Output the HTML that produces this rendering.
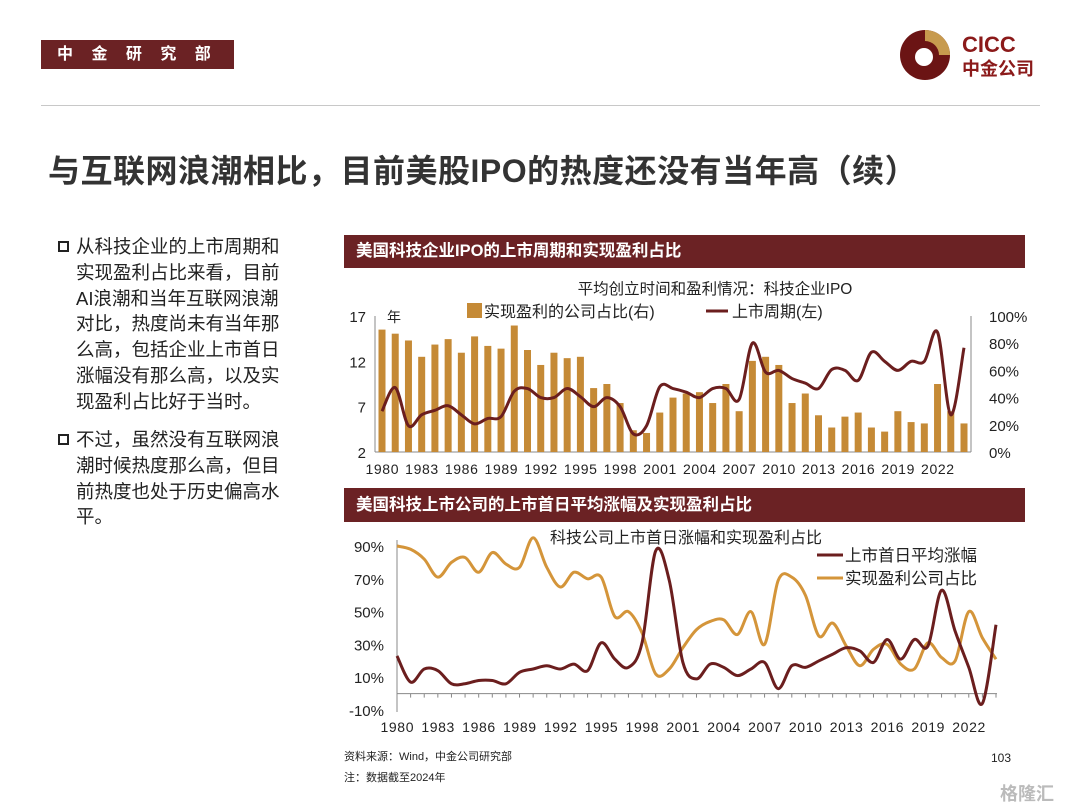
<!DOCTYPE html>
<html><head><meta charset="utf-8"><style>
body{margin:0;width:1080px;height:810px;background:#fff;position:relative;overflow:hidden;font-family:"Liberation Sans","Noto Sans CJK SC",sans-serif;color:#222}
.abs{position:absolute}
.bar{background:#6b2224;color:#fff;font-weight:bold}
.lt{font-size:18.5px;line-height:25.8px;color:#222}
.sq{display:inline-block;width:7px;height:7px;border:2px solid #222;margin-right:7px;vertical-align:1px}
</style></head><body>
<div class="abs bar" style="left:41px;top:40px;width:193px;height:29px;font-size:16px;line-height:29px;letter-spacing:7px;padding-left:16px;box-sizing:border-box">中 金 研 究 部</div>
<svg class="abs" style="left:898px;top:28px" width="145" height="54" viewBox="0 0 145 54">
<circle cx="27" cy="27" r="25" fill="#6b1414"/>
<path d="M27 2 A25 25 0 0 1 52 27 L41 27 A14 14 0 0 0 27 13 Z" fill="#c79a4e"/>
<circle cx="26" cy="29" r="9" fill="#fff"/>
<text x="64" y="24" font-size="22" font-weight="bold" fill="#8b1a1a" font-family="Liberation Sans">CICC</text>
<text x="64" y="47" font-size="18" font-weight="bold" fill="#8b1a1a" font-family="Noto Sans CJK SC">中金公司</text>
</svg>
<div class="abs" style="left:41px;top:105px;width:999px;height:1px;background:#c8c8c8"></div>
<div class="abs" style="left:48px;top:146px;font-size:32px;font-weight:bold;color:#333;letter-spacing:0.5px">与互联网浪潮相比，目前美股IPO的热度还没有当年高（续）</div>
<div class="abs lt" style="left:58px;top:234px;width:272px"><span class="sq"></span>从科技企业的上市周期和<br><span style="padding-left:18px"></span>实现盈利占比来看，目前<br><span style="padding-left:18px"></span>AI浪潮和当年互联网浪潮<br><span style="padding-left:18px"></span>对比，热度尚未有当年那<br><span style="padding-left:18px"></span>么高，包括企业上市首日<br><span style="padding-left:18px"></span>涨幅没有那么高，以及实<br><span style="padding-left:18px"></span>现盈利占比好于当时。</div>
<div class="abs lt" style="left:58px;top:427px;width:272px"><span class="sq"></span>不过，虽然没有互联网浪<br><span style="padding-left:18px"></span>潮时候热度那么高，但目<br><span style="padding-left:18px"></span>前热度也处于历史偏高水<br><span style="padding-left:18px"></span>平。</div>
<div class="abs bar" style="left:344px;top:235px;width:681px;height:33px;font-size:16.5px;line-height:33px;padding-left:12px;box-sizing:border-box">美国科技企业IPO的上市周期和实现盈利占比</div>
<div class="abs bar" style="left:344px;top:488px;width:681px;height:34px;font-size:16.5px;line-height:34px;padding-left:12px;box-sizing:border-box">美国科技上市公司的上市首日平均涨幅及实现盈利占比</div>
<div class="abs" style="left:344px;top:748px;font-size:11px">资料来源：Wind，中金公司研究部</div>
<div class="abs" style="left:344px;top:769px;font-size:11px">注：数据截至2024年</div>
<div class="abs" style="left:991px;top:751px;font-size:12px">103</div>
<div class="abs" style="left:1000px;top:780px;font-size:18px;color:#bbb;font-weight:bold">格隆汇</div>
<svg id="ch" class="abs" style="left:0;top:0" width="1080" height="810"></svg>
<script>
const years=[];for(let y=1980;y<=2024;y++)years.push(y);
const profitPct=[90,87,82,70,79,83,73,85,78,76,93,75,64,73,69,70,47,50,36,16,14,29,40,43,44,36,50,30,67,70,64,36,43,27,18,26,29,18,15,30,22,21,50,30,21];
const listCycle=[6.5,9.1,4.9,6.1,6.6,7.1,6.1,5.1,5.7,5.9,8.7,9.0,8.0,8.0,9.0,8.1,7.0,8.0,7.0,4.0,4.9,9.2,9.0,8.6,8.0,9.0,9.0,7.8,14.0,10.8,11.0,10.1,9.6,9.0,11.1,11.0,9.9,13.0,12.0,11.0,12.0,12.0,15.2,6.1,13.5];
const leftTicks=[2,7,12,17];
const rightTicks=[0,20,40,60,80,100];
const firstDayRet=[23,7,15,14,6,6,8,8,6,13,15,17,15,18,14,31,21,16,31,87,69,19,9,18,16,11,15,19,3,17,16,20,24,28,26,19,33,21,33,29,63,38,16,-6,42];
const profitPct2=[90,88,82,71,80,83,74,86,79,77,95,77,65,74,70,71,47,50,37,12,15,28,39,44,45,36,50,30,69,71,60,35,43,29,17,27,30,18,15,31,22,20,50,34,21];
const bottomTicks=[-10,10,30,50,70,90];
const NS='http://www.w3.org/2000/svg';
const svg=document.getElementById('ch');
function mk(t,a,txt){const e=document.createElementNS(NS,t);for(const k in a)e.setAttribute(k,a[k]);if(txt!==undefined)e.textContent=txt;svg.appendChild(e);return e;}
function smooth(pts){let d='M'+pts[0][0]+','+pts[0][1];for(let i=0;i<pts.length-1;i++){const p0=pts[i-1]||pts[i],p1=pts[i],p2=pts[i+1],p3=pts[i+2]||p2;const c1x=p1[0]+(p2[0]-p0[0])/6,c1y=p1[1]+(p2[1]-p0[1])/6,c2x=p2[0]-(p3[0]-p1[0])/6,c2y=p2[1]-(p3[1]-p1[1])/6;d+=' C'+c1x+','+c1y+' '+c2x+','+c2y+' '+p2[0]+','+p2[1];}return d;}
const F='Liberation Sans, Noto Sans CJK SC, sans-serif';
// top chart
const x1=i=>382+i*(964-382)/(years.length-1);
const yL=v=>452-(v-2)/15*136;
const yR=p=>452-p/100*136;
let e;
e=mk('line',{x1:375,y1:316,x2:375,y2:452,stroke:'#888'});

e=mk('line',{x1:971,y1:316,x2:971,y2:452,stroke:'#888'});

e=mk('line',{x1:375,y1:452,x2:971,y2:452,stroke:'#888'});

leftTicks.forEach(v=>{e=mk('text',{x:366,y:yL(v)+6,'text-anchor':'end','font-size':15,fill:'#222','font-family':F},v);
});
rightTicks.forEach(v=>{e=mk('text',{x:989,y:yR(v)+6,'font-size':15,fill:'#222','font-family':F},v+'%');
});
profitPct.forEach((p,i)=>{e=mk('rect',{x:x1(i)-3.5,y:yR(p),width:7,height:452-yR(p),fill:'#c58a36'});
});
e=mk('path',{d:smooth(listCycle.map((v,i)=>[x1(i),yL(v)])),fill:'none',stroke:'#6b1e1e','stroke-width':3});

years.forEach((y,i)=>{if(i%3===0){e=mk('text',{x:x1(i),y:474,'text-anchor':'middle','font-size':14,fill:'#222','font-family':F,textLength:33},y);
}});
e=mk('text',{x:387,y:322,'font-size':14,fill:'#222','font-family':F},'年');

e=mk('text',{x:715,y:294,'text-anchor':'middle','font-size':15.5,fill:'#222','font-family':F},'平均创立时间和盈利情况：科技企业IPO');

e=mk('rect',{x:467,y:303,width:15,height:15,fill:'#c58a36'});

e=mk('text',{x:484,y:317,'font-size':16,fill:'#222','font-family':F},'实现盈利的公司占比(右)');

e=mk('line',{x1:706,y1:311,x2:728,y2:311,stroke:'#6b1e1e','stroke-width':3});

e=mk('text',{x:732,y:317,'font-size':16,fill:'#222','font-family':F},'上市周期(左)');

// bottom chart
const x2=i=>397+i*(996-397)/(years.length-1);
const yB=v=>546+(90-v)*1.64;
e=mk('line',{x1:397,y1:540,x2:397,y2:712,stroke:'#888'});

e=mk('line',{x1:397,y1:yB(0),x2:997,y2:yB(0),stroke:'#888'});

years.forEach((y,i)=>{e=mk('line',{x1:x2(i),y1:yB(0),x2:x2(i),y2:yB(0)+4,stroke:'#888'});

if(i%3===0){e=mk('text',{x:x2(i),y:732,'text-anchor':'middle','font-size':14,fill:'#222','font-family':F,textLength:33},y);
}});
bottomTicks.forEach(v=>{e=mk('text',{x:384,y:yB(v)+6,'text-anchor':'end','font-size':15,fill:'#222','font-family':F},v+'%');
});
e=mk('path',{d:smooth(profitPct2.map((v,i)=>[x2(i),yB(v)])),fill:'none',stroke:'#d4953a','stroke-width':3});

e=mk('path',{d:smooth(firstDayRet.map((v,i)=>[x2(i),yB(v)])),fill:'none',stroke:'#6b1e1e','stroke-width':3});

e=mk('text',{x:686,y:543,'text-anchor':'middle','font-size':16,fill:'#222','font-family':F},'科技公司上市首日涨幅和实现盈利占比');

e=mk('line',{x1:817,y1:555,x2:843,y2:555,stroke:'#6b1e1e','stroke-width':3});

e=mk('text',{x:845,y:561,'font-size':16.5,fill:'#222','font-family':F},'上市首日平均涨幅');

e=mk('line',{x1:817,y1:578,x2:843,y2:578,stroke:'#d4953a','stroke-width':3});

e=mk('text',{x:845,y:584,'font-size':16.5,fill:'#222','font-family':F},'实现盈利公司占比');

</script>
</body></html>
